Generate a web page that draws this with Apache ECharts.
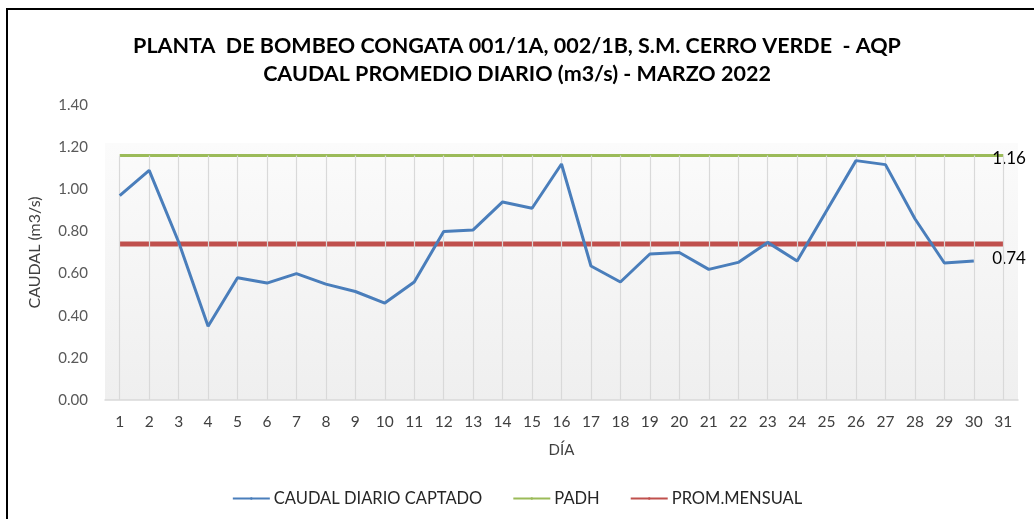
<!DOCTYPE html>
<html>
<head>
<meta charset="utf-8">
<script src="https://cdn.jsdelivr.net/npm/echarts@6/dist/echarts.min.js"></script>
<style>html,body{margin:0;padding:0;background:#fff;}#c{width:1034px;height:519px;}</style>
</head>
<body>
<div id="c"></div>
<script>
const days = ['1','2','3','4','5','6','7','8','9','10','11','12','13','14','15','16','17','18','19','20','21','22','23','24','25','26','27','28','29','30','31'];
const caudal = [0.97,1.09,0.75,0.35,0.58,0.555,0.60,0.55,0.515,0.46,0.56,0.80,0.807,0.94,0.91,1.12,0.636,0.56,0.693,0.70,0.62,0.653,0.748,0.66,0.898,1.136,1.117,0.86,0.65,0.66,null];
const padhValue = 1.16;
const promValue = 0.74;
const yTicks = [0,0.2,0.4,0.6,0.8,1.0,1.2,1.4];

const padh = days.map(() => padhValue);
const prom = days.map(() => promValue);
const FONT = 'Lato';

const chart = echarts.init(document.getElementById('c'));
const endLbl = (val, dx, dy) => ({
  show: true, distance: 0, offset: [dx, dy],
  formatter: () => val.toFixed(2), color: '#000', fontSize: 17, fontFamily: FONT
});
chart.setOption({
  animation: false,
  textStyle: { fontFamily: FONT },
  title: {
    text: 'PLANTA  DE BOMBEO CONGATA 001/1A, 002/1B, S.M. CERRO VERDE  - AQP\nCAUDAL PROMEDIO DIARIO (m3/s) - MARZO 2022',
    left: 'center', top: 27,
    textStyle: { fontSize: 21.5, fontWeight: 'bold', color: '#000', lineHeight: 28, fontFamily: FONT }
  },
  legend: {
    top: 485, left: 'center', itemWidth: 37, itemHeight: 3, itemGap: 30,
    data: ['CAUDAL DIARIO CAPTADO', 'PADH', 'PROM.MENSUAL'],
    textStyle: { fontSize: 16.5, color: '#262626', fontFamily: FONT, padding: [0,0,0,-1] }
  },
  grid: {
    left: 105, right: 16, top: 105, bottom: 119, show: true, borderWidth: 0,
    backgroundColor: new echarts.graphic.LinearGradient(0,0,0,1,[
      {offset:0,color:'#ffffff'},{offset:0.128,color:'#ffffff'},
      {offset:0.13,color:'#fbfbfb'},{offset:1,color:'#efefef'}])
  },
  xAxis: {
    type: 'category', data: days, boundaryGap: true,
    axisLine: { lineStyle: { color: '#d9d9d9', width: 1.5 } },
    axisTick: { show: false },
    axisLabel: { color: '#404040', fontSize: 15.5, margin: 14, interval: 0, fontFamily: FONT },
    splitLine: { show: false },
    name: 'DÍA', nameLocation: 'middle', nameGap: 43,
    nameTextStyle: { color: '#404040', fontSize: 15, fontFamily: FONT }
  },
  yAxis: {
    type: 'value', min: yTicks[0], max: yTicks[yTicks.length-1], interval: 0.2,
    axisLine: { show: false }, axisTick: { show: false },
    splitLine: { show: false },
    axisLabel: { color: '#595959', fontSize: 15, margin: 17, formatter: v => v.toFixed(2), fontFamily: FONT },
    name: 'CAUDAL (m3/s)', nameLocation: 'middle', nameRotate: 90, nameGap: 62,
    nameTextStyle: { color: '#404040', fontSize: 16, fontFamily: FONT }
  },
  graphic: [{
    type: 'rect', shape: { x: 7, y: 9, width: 1040, height: 530 },
    style: { fill: 'none', stroke: '#000', lineWidth: 2 }, silent: true
  }],
  series: [
    {
      name: 'drop', type: 'line', data: [], z: 1, silent: true,
      markLine: {
        silent: true, symbol: ['none','none'], label: { show: false },
        lineStyle: { color: '#d9d9d9', width: 1.2, type: 'solid' },
        data: days.map((d, i) => [{ coord: [i, 0] }, { coord: [i, padhValue] }])
      }
    },
    {
      name: 'CAUDAL DIARIO CAPTADO', type: 'line', data: caudal, z: 5,
      symbol: 'none', color: '#4A7EBB', lineStyle: { width: 3, color: '#4A7EBB' }
    },
    {
      name: 'PADH', type: 'line', z: 3, symbol: 'none', color: '#9BBB59',
      lineStyle: { width: 3, color: '#9BBB59' }, data: padh,
      endLabel: endLbl(padhValue, -11, 3)
    },
    {
      name: 'PROM.MENSUAL', type: 'line', z: 4, symbol: 'none', color: '#C0504D',
      lineStyle: { width: 5, color: '#C0504D' }, data: prom,
      endLabel: endLbl(promValue, -11, 14)
    }
  ]
});
</script>
</body>
</html>
